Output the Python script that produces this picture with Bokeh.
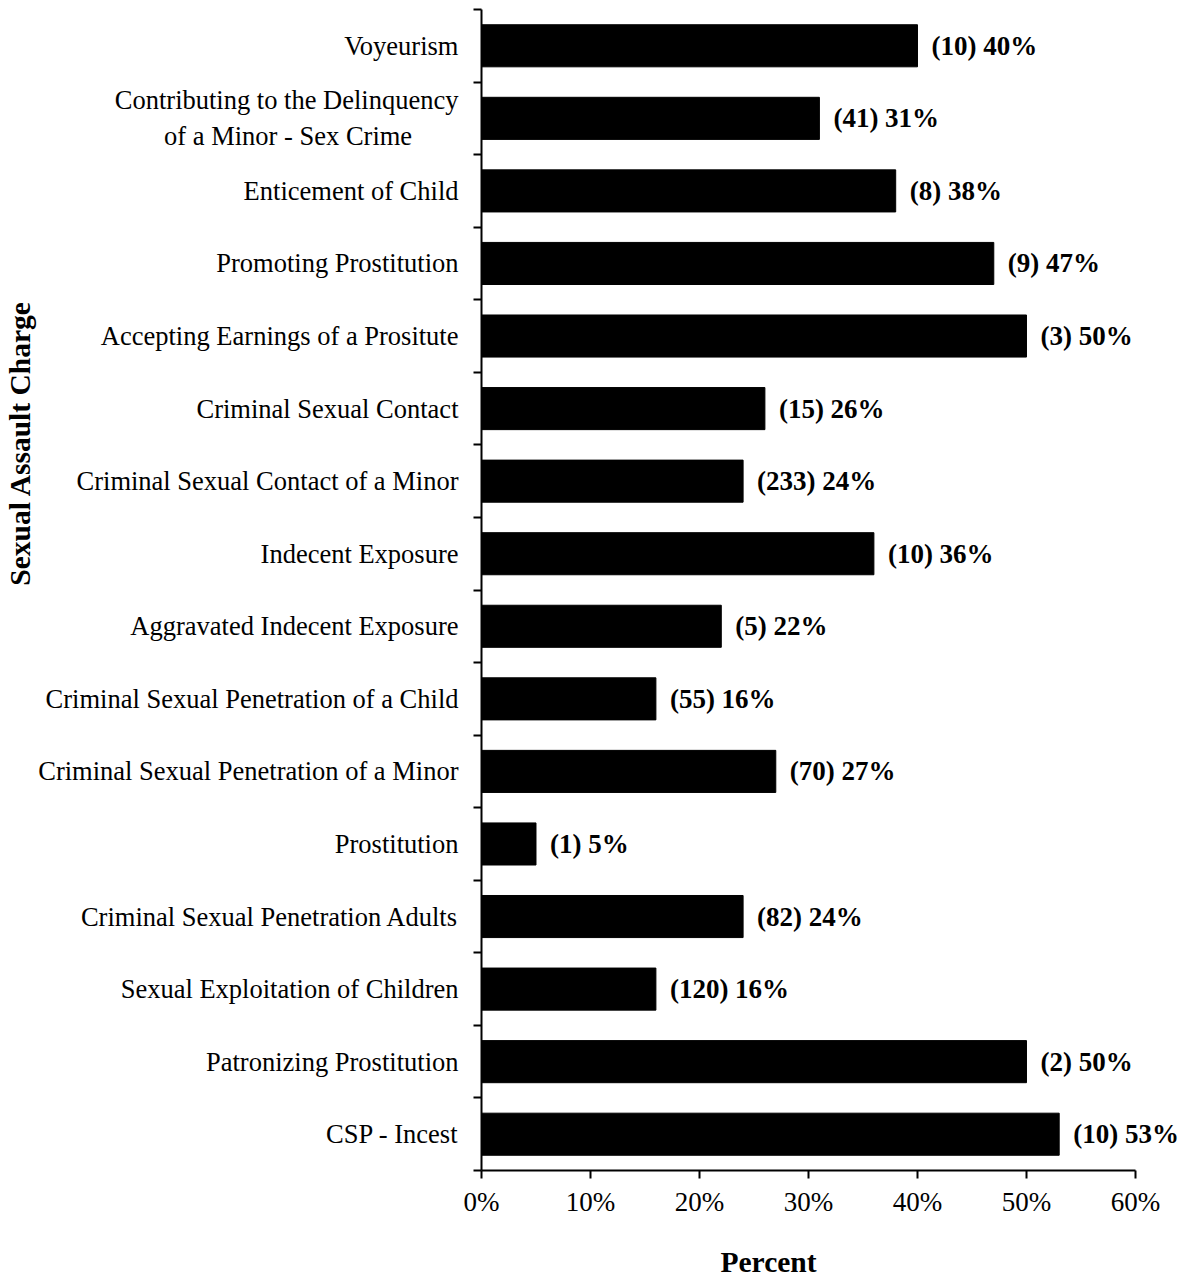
from bokeh.plotting import figure
from bokeh.models import (ColumnDataSource, FixedTicker, Range1d, LabelSet, Title,
                          PrintfTickFormatter, CustomJSTickFormatter)
from bokeh.embed import file_html
from bokeh.resources import INLINE

NBSP = "\u00a0"
# top to bottom as in the reference
categories = [
    "Voyeurism",
    "Contributing to the Delinquency\nof a Minor - Sex Crime" + NBSP * 7,
    "Enticement of Child",
    "Promoting Prostitution",
    "Accepting Earnings of a Prositute",
    "Criminal Sexual Contact",
    "Criminal Sexual Contact of a Minor",
    "Indecent Exposure",
    "Aggravated Indecent Exposure",
    "Criminal Sexual Penetration of a Child",
    "Criminal Sexual Penetration of a Minor",
    "Prostitution",
    "Criminal Sexual Penetration Adults",
    "Sexual Exploitation of Children",
    "Patronizing Prostitution",
    "CSP - Incest",
]
counts = [10, 41, 8, 9, 3, 15, 233, 10, 5, 55, 70, 1, 82, 120, 2, 10]
percents = [40, 31, 38, 47, 50, 26, 24, 36, 22, 16, 27, 5, 24, 16, 50, 53]
x_ticks = [0, 10, 20, 30, 40, 50, 60]
x_title = "Percent"
y_title = "Sexual Assault Charge"

FONT = "Liberation Serif"
n = len(categories)
ypos = [n - 0.5 - i for i in range(n)]
bar_labels = [f"({c}) {v}%" for c, v in zip(counts, percents)]
src = ColumnDataSource(dict(y=ypos, pct=percents, lab=bar_labels))

# frame spans to the right edge so the value labels are not clipped;
# the x axis itself is bounded to 0..60
p = figure(width=1186, height=1278, x_range=Range1d(0, 64.68), y_range=Range1d(0, n),
           output_backend="svg", toolbar_location=None,
           min_border_left=481, min_border_right=0, min_border_top=9, min_border_bottom=108)
p.outline_line_color = None
p.xgrid.visible = False
p.ygrid.visible = False

p.hbar(y="y", right="pct", left=0, height=0.58, source=src,
       fill_color="black", line_color="black")

p.add_layout(LabelSet(x="pct", y="y", text="lab", source=src, x_offset=14,
                      text_baseline="middle", text_font=FONT, text_font_size="27px",
                      text_font_style="bold", text_color="black"))

# x axis
xa = p.xaxis[0]
xa.bounds = (0, 60)
xa.ticker = FixedTicker(ticks=x_ticks)
xa.formatter = PrintfTickFormatter(format="%d%%")
xa.axis_line_width = 2
xa.axis_line_color = "black"
xa.major_tick_out = 8
xa.major_tick_in = 0
xa.major_tick_line_width = 2
xa.major_tick_line_color = "black"
xa.minor_tick_line_color = None
xa.major_label_text_font = FONT
xa.major_label_text_font_size = "27px"
xa.major_label_text_color = "black"
xa.major_label_standoff = 8

# y axis
ya = p.yaxis[0]
ya.ticker = FixedTicker(ticks=ypos, minor_ticks=list(range(n + 1)))
ya.formatter = CustomJSTickFormatter(args=dict(cats=categories, n=n), code="""
    const i = Math.round(n - 0.5 - tick);
    return (i >= 0 && i < cats.length) ? cats[i] : "";
""")
ya.axis_line_width = 2
ya.axis_line_color = "black"
ya.major_tick_line_color = None
ya.major_tick_out = 0
ya.major_tick_in = 0
ya.minor_tick_out = 8
ya.minor_tick_in = 0
ya.minor_tick_line_width = 2
ya.minor_tick_line_color = "black"
ya.major_label_text_font = FONT
ya.major_label_text_font_size = "26.5px"
ya.major_label_text_color = "black"
ya.major_label_standoff = 15

# axis titles
p.add_layout(Title(text=x_title, align="left", offset=239, standoff=0,
                   padding=dict(left=0, right=0, top=24, bottom=0),
                   text_font=FONT, text_font_size="29.5px", text_font_style="bold",
                   text_color="black"), "below")
p.add_layout(Title(text=y_title, align="right", offset=291, standoff=0,
                   text_font=FONT, text_font_size="29.5px", text_font_style="bold",
                   text_color="black"), "left")

open("out.html", "w").write(file_html(p, INLINE))
